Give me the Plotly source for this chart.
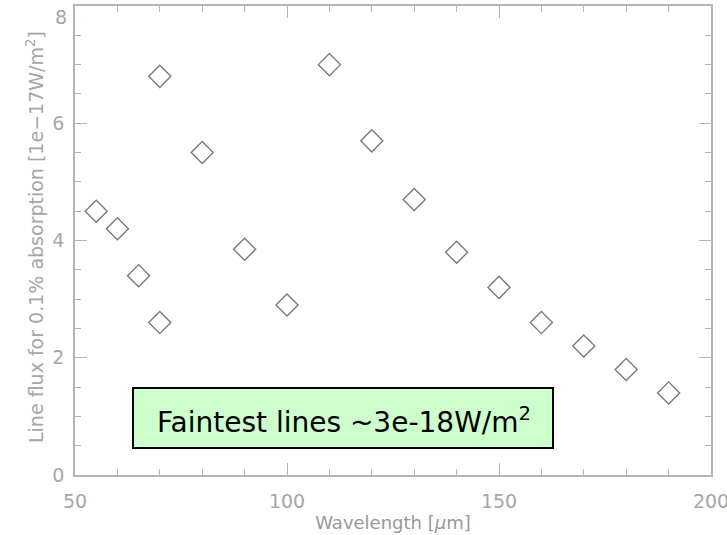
import plotly.graph_objects as go

wavelength = [55, 60, 65, 70, 70, 80, 90, 100, 110, 120, 130, 140, 150, 160, 170, 180, 190]
line_flux = [4.5, 4.2, 3.4, 2.6, 6.8, 5.5, 3.85, 2.9, 7.0, 5.7, 4.7, 3.8, 3.2, 2.6, 2.2, 1.8, 1.4]

x_ticks = [50, 100, 150, 200]
y_ticks = [0, 2, 4, 6, 8]

W, H = 727, 535
L, R, T, B = 75, 16, 6, 60
pw, ph = W - L - R, H - T - B

def px(x):
    return (x - L) / pw

def py(y):
    return (H - B - y) / ph

axis_col = "#b4b4b4"
text_col = "#a6a6a6"
lab_font = "DejaVu Sans, sans-serif"
tick_font = dict(family=lab_font, size=19, color=text_col)

fig = go.Figure()
fig.add_trace(go.Scatter(
    x=wavelength, y=line_flux, mode="markers",
    marker=dict(symbol="diamond-open", size=17, color="#7a7a7a", line=dict(width=1.4, color="#7a7a7a")),
    showlegend=False, cliponaxis=False,
))
# empty trace to register mirrored top/right axes
fig.add_trace(go.Scatter(x=[], y=[], xaxis="x2", yaxis="y2", showlegend=False, hoverinfo="skip"))

common = dict(
    showline=True, linecolor=axis_col, linewidth=1.5,
    ticks="inside", ticklen=12, tickwidth=1, tickcolor=axis_col,
    showgrid=False, zeroline=False, automargin=False,
)
xminor = dict(dtick=10, tick0=50, ticks="inside", ticklen=6, tickcolor=axis_col, tickwidth=1, showgrid=False)
yminor = dict(dtick=0.5, tick0=0, ticks="inside", ticklen=6, tickcolor=axis_col, tickwidth=1, showgrid=False)

# the top label (8) sits a little below its tick, as in the original
y_ticktext = [str(v) if v != y_ticks[-1] else "" for v in y_ticks]

fig.update_layout(
    xaxis=dict(
        range=[50, 200], tickvals=x_ticks, ticktext=[str(v) for v in x_ticks],
        minor=xminor, ticklabelstandoff=8, ticklabeloverflow="allow", tickfont=tick_font,
        title=dict(text="Wavelength [<i>μ</i>m]", font=dict(family=lab_font, size=18, color="#999999"), standoff=6),
        **common,
    ),
    yaxis=dict(
        range=[0, 8], tickvals=y_ticks, ticktext=y_ticktext,
        minor=yminor, ticklabelstandoff=5, ticklabeloverflow="allow", tickfont=tick_font,
        **common,
    ),
    xaxis2=dict(
        range=[50, 200], tickvals=x_ticks, minor=xminor, overlaying="x", side="top", anchor="y2",
        showticklabels=False, **common,
    ),
    yaxis2=dict(
        range=[0, 8], tickvals=y_ticks, minor=yminor, overlaying="y", side="right", anchor="x2",
        showticklabels=False, **common,
    ),
)

fig.add_annotation(xref="paper", yref="y", x=0, y=y_ticks[-1], text=str(y_ticks[-1]),
                   showarrow=False, xanchor="right", yanchor="top", xshift=-6, yshift=2,
                   font=tick_font)
fig.add_annotation(xref="paper", yref="paper", x=px(35), y=py(237), textangle=-90,
                   text="Line flux for 0.1% absorption [1e−17W/m<sup>2</sup>]", showarrow=False,
                   xanchor="center", yanchor="middle",
                   font=dict(family=lab_font, size=19, color=text_col))

fig.add_shape(type="rect", xref="paper", yref="paper",
              x0=px(133), x1=px(553), y0=py(448), y1=py(388),
              fillcolor="#ccffcc", line=dict(color="black", width=2), layer="above")
fig.add_annotation(xref="paper", yref="paper", x=px(344), y=py(420),
                   text="Faintest lines ~3e-18W/m<sup>2</sup>", showarrow=False,
                   font=dict(family="DejaVu Sans, sans-serif", size=28, color="black"),
                   xanchor="center", yanchor="middle")

fig.update_layout(
    width=W, height=H, margin=dict(l=L, r=R, t=T, b=B, autoexpand=False),
    paper_bgcolor="white", plot_bgcolor="white",
)

fig.write_html("out.html")
